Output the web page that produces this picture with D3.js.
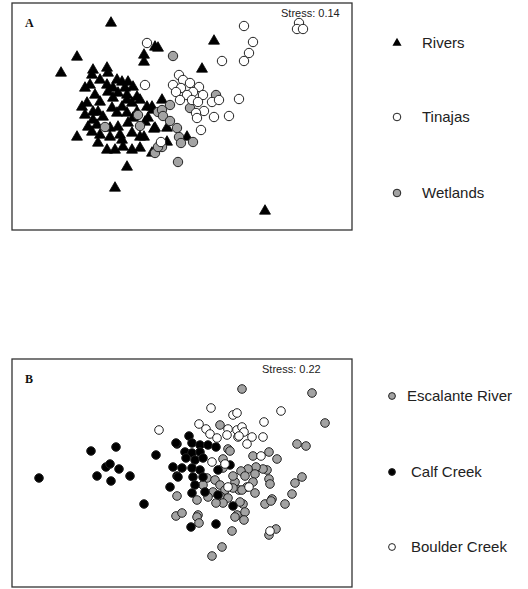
<!DOCTYPE html>
<html><head><meta charset="utf-8">
<script src="https://cdn.jsdelivr.net/npm/d3@7"></script>
<style>body{margin:0;background:#fff;} svg{display:block;}</style>
</head><body>
<script>
// NMDS ordination scores (arbitrary units)
const riversA = [[99,207],[143,183],[146,182],[65,173],[132,175],[132,168],[49,157],[81,160],[95,162],[80,155],[96,157],[88,150],[110,148],[116,148],[105,150],[73,142],[78,145],[95,145],[101,142],[113,142],[121,143],[83,135],[96,138],[106,137],[115,135],[125,133],[70,123],[75,127],[88,128],[100,122],[110,123],[120,127],[128,130],[135,123],[150,130],[73,115],[81,118],[91,113],[105,117],[115,117],[125,118],[140,123],[76,103],[85,105],[106,103],[116,107],[133,108],[143,102],[155,102],[65,93],[80,98],[88,95],[98,93],[108,95],[120,97],[128,93],[155,88],[86,87],[95,80],[103,80],[111,83],[120,80],[128,82],[140,77],[115,63],[103,42],[253,19],[202,189],[190,161],[141,120],[142,101],[175,93],[132,93],[101,132],[115,130],[86,118],[81,110],[136,112],[121,112],[98,102],[110,90]];
const tinajasA = [[135,187],[133,145],[287,207],[285,201],[291,201],[232,204],[241,188],[237,177],[232,169],[210,169],[227,131],[167,155],[171,150],[178,147],[161,145],[169,142],[187,143],[164,138],[181,138],[191,135],[175,135],[168,130],[180,130],[186,128],[200,128],[207,130],[192,119],[184,117],[185,112],[202,113],[217,114],[189,100],[149,88]];
const wetlandsA = [[161,174],[126,115],[128,104],[93,103],[146,118],[158,125],[150,120],[151,114],[158,109],[165,102],[167,93],[169,87],[181,88],[150,83],[143,77],[166,68],[178,122],[204,135],[146,83]];

const escalanteB = [[165,91],[164,71],[208,162],[216,138],[211,128],[211,119],[195,109],[203,107],[191,102],[208,102],[213,97],[223,105],[201,95],[185,87],[196,90],[208,91],[216,89],[211,84],[170,74],[186,72],[225,72],[227,97],[230,198],[300,194],[313,164],[285,143],[294,141],[257,135],[265,128],[241,131],[290,110],[283,104],[280,93],[273,83],[260,88],[253,83],[255,117],[251,118],[244,120],[236,118],[229,116],[233,111],[243,113],[257,108],[258,103],[241,105],[235,100],[243,94],[230,97],[221,111],[221,99],[218,136],[231,83],[233,75],[223,70],[232,67],[185,70],[187,64],[220,56],[210,40],[200,31],[264,58],[257,52],[259,86],[204,84],[228,85]];
const calfB = [[27,109],[79,136],[104,140],[94,120],[98,123],[107,118],[85,111],[99,106],[118,111],[132,83],[144,132],[165,143],[161,120],[165,111],[158,100],[177,151],[164,144],[180,144],[188,142],[196,142],[204,140],[173,135],[180,134],[188,135],[174,129],[183,127],[191,129],[170,119],[180,119],[188,117],[206,117],[166,110],[181,110],[191,110],[183,102],[180,94],[193,95],[206,92],[221,81],[218,122],[204,63],[179,60]];
const boulderB = [[147,157],[199,179],[221,172],[225,174],[187,163],[194,158],[198,153],[205,149],[216,158],[225,157],[215,152],[226,150],[200,125],[213,123],[216,100],[269,176],[252,165],[251,150],[230,160],[232,155],[240,150],[235,143],[227,151],[249,131],[237,100],[258,56]];

const legendA = ["Rivers", "Tinajas", "Wetlands"];
const legendB = ["Escalante River", "Calf Creek", "Boulder Creek"];
const stressA = "Stress: 0.14";
const stressB = "Stress: 0.22";

const W = 528, H = 589;
const svg = d3.select("body").append("svg").attr("width", W).attr("height", H);
const font = "Liberation Sans, Arial, Helvetica, sans-serif";

function panel(top, bottom, label, stress, stressX, series) {
  const left = 12, right = 352;
  const x = d3.scaleLinear().domain([0, 340]).range([left, right]);
  const y = d3.scaleLinear().domain([0, bottom - top]).range([bottom, top]);
  const g = svg.append("g");
  g.append("rect").attr("x", left).attr("y", top).attr("width", right - left).attr("height", bottom - top)
    .attr("fill", "none").attr("stroke", "#333").attr("stroke-width", 1.3);
  g.append("text").attr("x", 25).attr("y", top + 24).text(label)
    .attr("font-family", "Liberation Serif, Times New Roman, serif").attr("font-weight", "bold").attr("font-size", 12).attr("fill", "#111");
  g.append("text").attr("x", stressX).attr("y", top + 14).text(stress)
    .attr("font-family", font).attr("font-size", 11).attr("fill", "#222");
  series.forEach(s => {
    if (s.type === "tri") {
      g.append("g").selectAll("path").data(s.data).join("path")
        .attr("d", d3.symbol(d3.symbolTriangle, 52))
        .attr("transform", d => `translate(${x(d[0])},${y(d[1])})`)
        .attr("fill", "#000").attr("stroke", "#000").attr("stroke-width", 0.8);
    } else {
      g.append("g").selectAll("circle").data(s.data).join("circle")
        .attr("cx", d => x(d[0])).attr("cy", d => y(d[1])).attr("r", s.r)
        .attr("fill", s.fill).attr("stroke", "#222").attr("stroke-width", 1);
    }
  });
}

panel(3, 230, "A", stressA, 281, [
  {type: "tri", data: riversA},
  {type: "circ", data: wetlandsA, fill: "#a3a3a3", r: 4.7},
  {type: "circ", data: tinajasA, fill: "#fff", r: 4.7}
]);
panel(359, 587, "B", stressB, 262, [
  {type: "circ", data: escalanteB, fill: "#a3a3a3", r: 4.3},
  {type: "circ", data: calfB, fill: "#000", r: 4.3},
  {type: "circ", data: boulderB, fill: "#fff", r: 4.3}
]);

// Legend A
const lgA = svg.append("g");
const lyA = [43, 117, 193];
lgA.append("path").attr("d", d3.symbol(d3.symbolTriangle, 36)).attr("transform", `translate(397,${lyA[0]})`).attr("fill", "#000");
lgA.append("circle").attr("cx", 397).attr("cy", lyA[1]).attr("r", 3.8).attr("fill", "#fff").attr("stroke", "#222");
lgA.append("circle").attr("cx", 397).attr("cy", lyA[2]).attr("r", 3.8).attr("fill", "#a3a3a3").attr("stroke", "#222");
lgA.selectAll("text").data(legendA).join("text")
  .attr("x", 422).attr("y", (d, i) => lyA[i] + 5).text(d => d)
  .attr("font-family", font).attr("font-size", 15).attr("fill", "#222");

// Legend B
const lgB = svg.append("g");
const lyB = [396, 472, 547];
const fillsB = ["#a3a3a3", "#000", "#fff"];
lgB.selectAll("circle").data(fillsB).join("circle")
  .attr("cx", 392).attr("cy", (d, i) => lyB[i]).attr("r", 3.4).attr("fill", d => d).attr("stroke", "#222");
lgB.selectAll("text").data(legendB).join("text")
  .attr("x", (d, i) => i === 0 ? 407 : 411).attr("y", (d, i) => lyB[i] + 5).text(d => d)
  .attr("font-family", font).attr("font-size", 15).attr("fill", "#222");
</script>
</body></html>
